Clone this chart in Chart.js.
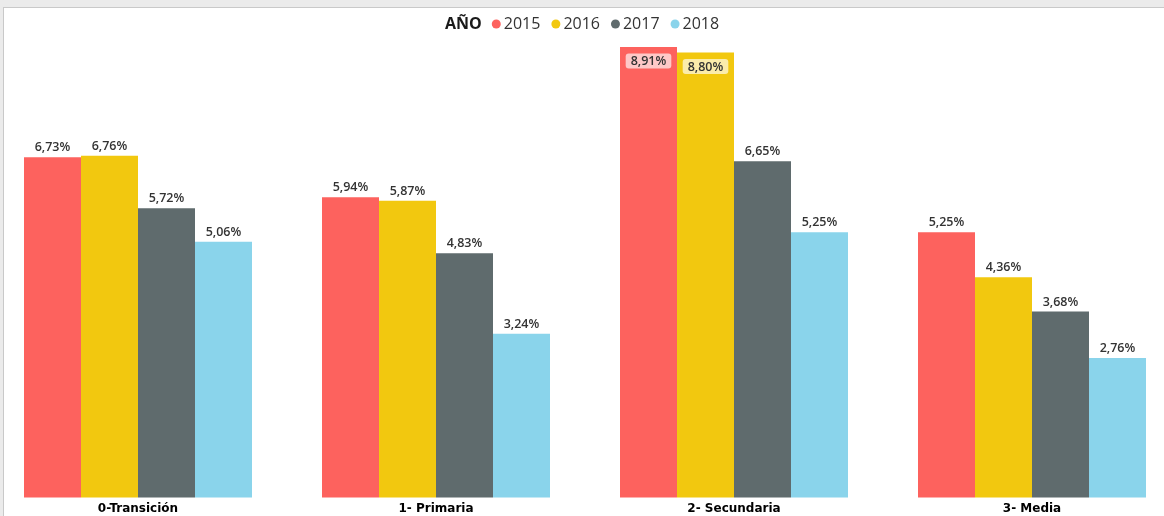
<!DOCTYPE html>
<html>
<head>
<meta charset="utf-8">
<script src="https://cdn.jsdelivr.net/npm/chart.js@4.4.0/dist/chart.umd.min.js"></script>
<style>
    html, body { margin: 0; padding: 0; background: #ebebeb; }
    body { width: 1164px; height: 516px; position: relative; overflow: hidden; }
    .panel {
        position: absolute; left: 3px; top: 7px; right: 0; bottom: 0;
        background: #fff;
        border-left: 1px solid #c9c9c9;
        border-top: 1px solid #c9c9c9;
    }
    #chart { position: absolute; left: 0; top: 0; }
</style>
</head>
<body>
<div class="panel"></div>
<canvas id="chart" width="1164" height="516"></canvas>
<script>
var categories = ["0-Transición", "1- Primaria", "2- Secundaria", "3- Media"];
var years = ["2015", "2016", "2017", "2018"];
var values2015 = [6.73, 5.94, 8.91, 5.25];
var values2016 = [6.76, 5.87, 8.80, 4.36];
var values2017 = [5.72, 4.83, 6.65, 3.68];
var values2018 = [5.06, 3.24, 5.25, 2.76];
var colors = ["#FD625E", "#F2C80F", "#5F6B6D", "#8AD4EB"];
var legendTitle = "AÑO";

var series = [values2015, values2016, values2017, values2018];

function fmt(v) {
    return v.toFixed(2).replace(".", ",") + "%";
}

// value labels over (or inside) the bars
var barLabels = {
    id: "barLabels",
    afterDatasetsDraw: function (chart) {
        var ctx = chart.ctx;
        ctx.save();
        ctx.font = "600 12.5px 'Open Sans'";
        ctx.textAlign = "center";
        chart.data.datasets.forEach(function (ds, di) {
            var meta = chart.getDatasetMeta(di);
            meta.data.forEach(function (bar, i) {
                var v = ds.data[i];
                var txt = fmt(v);
                if (bar.y - 20 < chart.chartArea.top) {
                    var w = ctx.measureText(txt).width + 10;
                    var cy = bar.y + 14;
                    ctx.fillStyle = "rgba(255,255,255,0.65)";
                    ctx.beginPath();
                    ctx.roundRect(bar.x - w / 2, cy - 7.5, w, 15, 3);
                    ctx.fill();
                    ctx.fillStyle = "#333";
                    ctx.textBaseline = "middle";
                    ctx.fillText(txt, bar.x, cy + 0.5);
                } else {
                    ctx.fillStyle = "#333";
                    ctx.textBaseline = "alphabetic";
                    ctx.fillText(txt, bar.x, bar.y - 6);
                }
            });
        });
        ctx.restore();
    }
};

// legend: bold title followed by dot + year
var yearLegend = {
    id: "yearLegend",
    afterDraw: function (chart) {
        var ctx = chart.ctx;
        var x = 445, y = 24;
        ctx.save();
        ctx.textBaseline = "middle";
        ctx.textAlign = "left";
        ctx.fillStyle = "#1a1a1a";
        ctx.font = "bold 16px 'Open Sans'";
        ctx.fillText(legendTitle, x, y);
        x += ctx.measureText(legendTitle).width + 10;
        ctx.font = "16px 'Open Sans'";
        chart.data.datasets.forEach(function (ds) {
            ctx.fillStyle = ds.backgroundColor;
            ctx.beginPath();
            ctx.arc(x + 4.5, y, 4.5, 0, Math.PI * 2);
            ctx.fill();
            x += 12;
            ctx.fillStyle = "#333";
            ctx.fillText(ds.label, x, y);
            x += ctx.measureText(ds.label).width + 11;
        });
        ctx.restore();
    }
};

new Chart(document.getElementById("chart").getContext("2d"), {
    type: "bar",
    plugins: [barLabels, yearLegend],
    data: {
        labels: categories,
        datasets: years.map(function (y, i) {
            return {
                label: y,
                data: series[i],
                backgroundColor: colors[i],
                categoryPercentage: 228 / 298,
                barPercentage: 1,
                clip: false
            };
        })
    },
    options: {
        responsive: false,
        animation: false,
        layout: {
            padding: { left: 138, right: 132, top: 42.5, bottom: -4 }
        },
        scales: {
            x: {
                offset: false,
                grid: { display: false, drawTicks: false },
                border: { display: false },
                ticks: {
                    color: "#000",
                    padding: 4,
                    font: { family: "'DejaVu Sans'", size: 12, weight: "bold" }
                }
            },
            y: {
                display: false,
                min: 0,
                max: 9
            }
        },
        plugins: {
            legend: { display: false },
            tooltip: { enabled: false }
        }
    }
});
</script>
</body>
</html>
